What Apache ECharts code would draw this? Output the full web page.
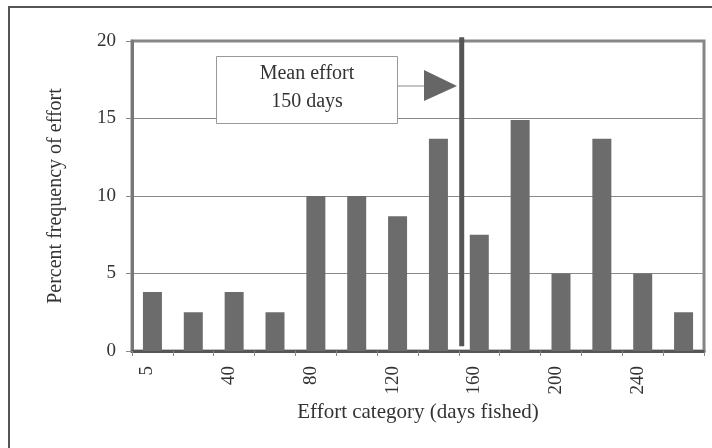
<!DOCTYPE html>
<html>
<head>
<meta charset="utf-8">
<script src="https://cdn.jsdelivr.net/npm/echarts@6/dist/echarts.min.js"></script>
<style>html,body{margin:0;padding:0;background:#fff}#c{width:712px;height:448px}</style>
</head>
<body>
<div id="c"></div>
<script>
// Effort categories (days fished)
const categories = ['5', '20', '40', '60', '80', '100', '120', '140', '160', '180', '200', '220', '240', '260'];
// Percent frequency of effort
const percentValues = [3.8, 2.5, 3.8, 2.5, 10, 10, 8.7, 13.7, 7.5, 14.9, 5, 13.7, 5, 2.5];
// Mean effort marker position in category units (0 = left edge, 14 = right edge)
const meanPosition = [8.07];
const meanLabel = ['Mean effort', '150 days'];
const yTicks = [0, 5, 10, 15, 20];

const FONT = '"Liberation Serif", "Times New Roman", serif';
const chart = echarts.init(document.getElementById('c'), null, {renderer: 'canvas'});

const meanLine = [[meanPosition[0], 0.3], [meanPosition[0], 20.25]];

chart.setOption({
  animation: false,
  backgroundColor: '#fff',
  grid: {left: 132, top: 41, right: 8, bottom: 97, show: true, borderColor: '#858585', borderWidth: 3, backgroundColor: '#fff'},
  xAxis: [{
    type: 'category',
    data: categories,
    name: 'Effort category (days fished)',
    nameLocation: 'middle',
    nameGap: 50,
    nameTextStyle: {fontFamily: FONT, fontSize: 21, color: '#333'},
    axisLine: {lineStyle: {color: '#555', width: 3}},
    axisTick: {show: true, interval: 0, length: 5, lineStyle: {color: '#888', width: 1}},
    axisLabel: {interval: 1, rotate: 90, margin: 15, verticalAlign: 'bottom', lineHeight: 10, fontFamily: FONT, fontSize: 19, color: '#333'},
    splitLine: {show: false}
  }, {
    type: 'value', min: 0, max: 14, show: false
  }],
  yAxis: {
    type: 'value', min: yTicks[0], max: yTicks[yTicks.length - 1], interval: 5,
    name: 'Percent frequency of effort',
    nameLocation: 'middle',
    nameGap: 66,
    nameRotate: 90,
    nameTextStyle: {fontFamily: FONT, fontSize: 20, color: '#333'},
    axisLine: {show: true, lineStyle: {color: '#777', width: 3}},
    axisTick: {show: true, length: 6, lineStyle: {color: '#888'}},
    axisLabel: {margin: 16, fontFamily: FONT, fontSize: 19, color: '#333'},
    splitLine: {show: true, lineStyle: {color: '#8a8a8a', width: 1}}
  },
  series: [{
    type: 'bar',
    data: percentValues,
    barWidth: 19,
    itemStyle: {color: '#6c6c6c'},
    z: 3
  }, {
    type: 'line',
    xAxisIndex: 1,
    data: meanLine,
    clip: false,
    symbol: 'none',
    lineStyle: {color: '#555', width: 5},
    z: 4
  }],
  graphic: [
    {type: 'rect', shape: {x: 9, y: 7, width: 720, height: 460}, style: {fill: null, stroke: '#555', lineWidth: 2}, silent: true},
    {type: 'rect', shape: {x: 216.5, y: 56.5, width: 181, height: 67}, style: {fill: '#fff', stroke: '#999', lineWidth: 1}, z: 10},
    {type: 'text', x: 307, y: 74, style: {text: meanLabel[0], font: '20px ' + FONT, fill: '#333', textAlign: 'center', textVerticalAlign: 'middle'}, z: 11},
    {type: 'text', x: 307, y: 102, style: {text: meanLabel[1], font: '20px ' + FONT, fill: '#333', textAlign: 'center', textVerticalAlign: 'middle'}, z: 11},
    {type: 'line', shape: {x1: 398, y1: 86, x2: 424, y2: 86}, style: {stroke: '#888', lineWidth: 1}, z: 10},
    {type: 'polygon', shape: {points: [[424, 70], [424, 101], [457, 86]]}, style: {fill: '#666'}, z: 10}
  ]
});
</script>
</body>
</html>
